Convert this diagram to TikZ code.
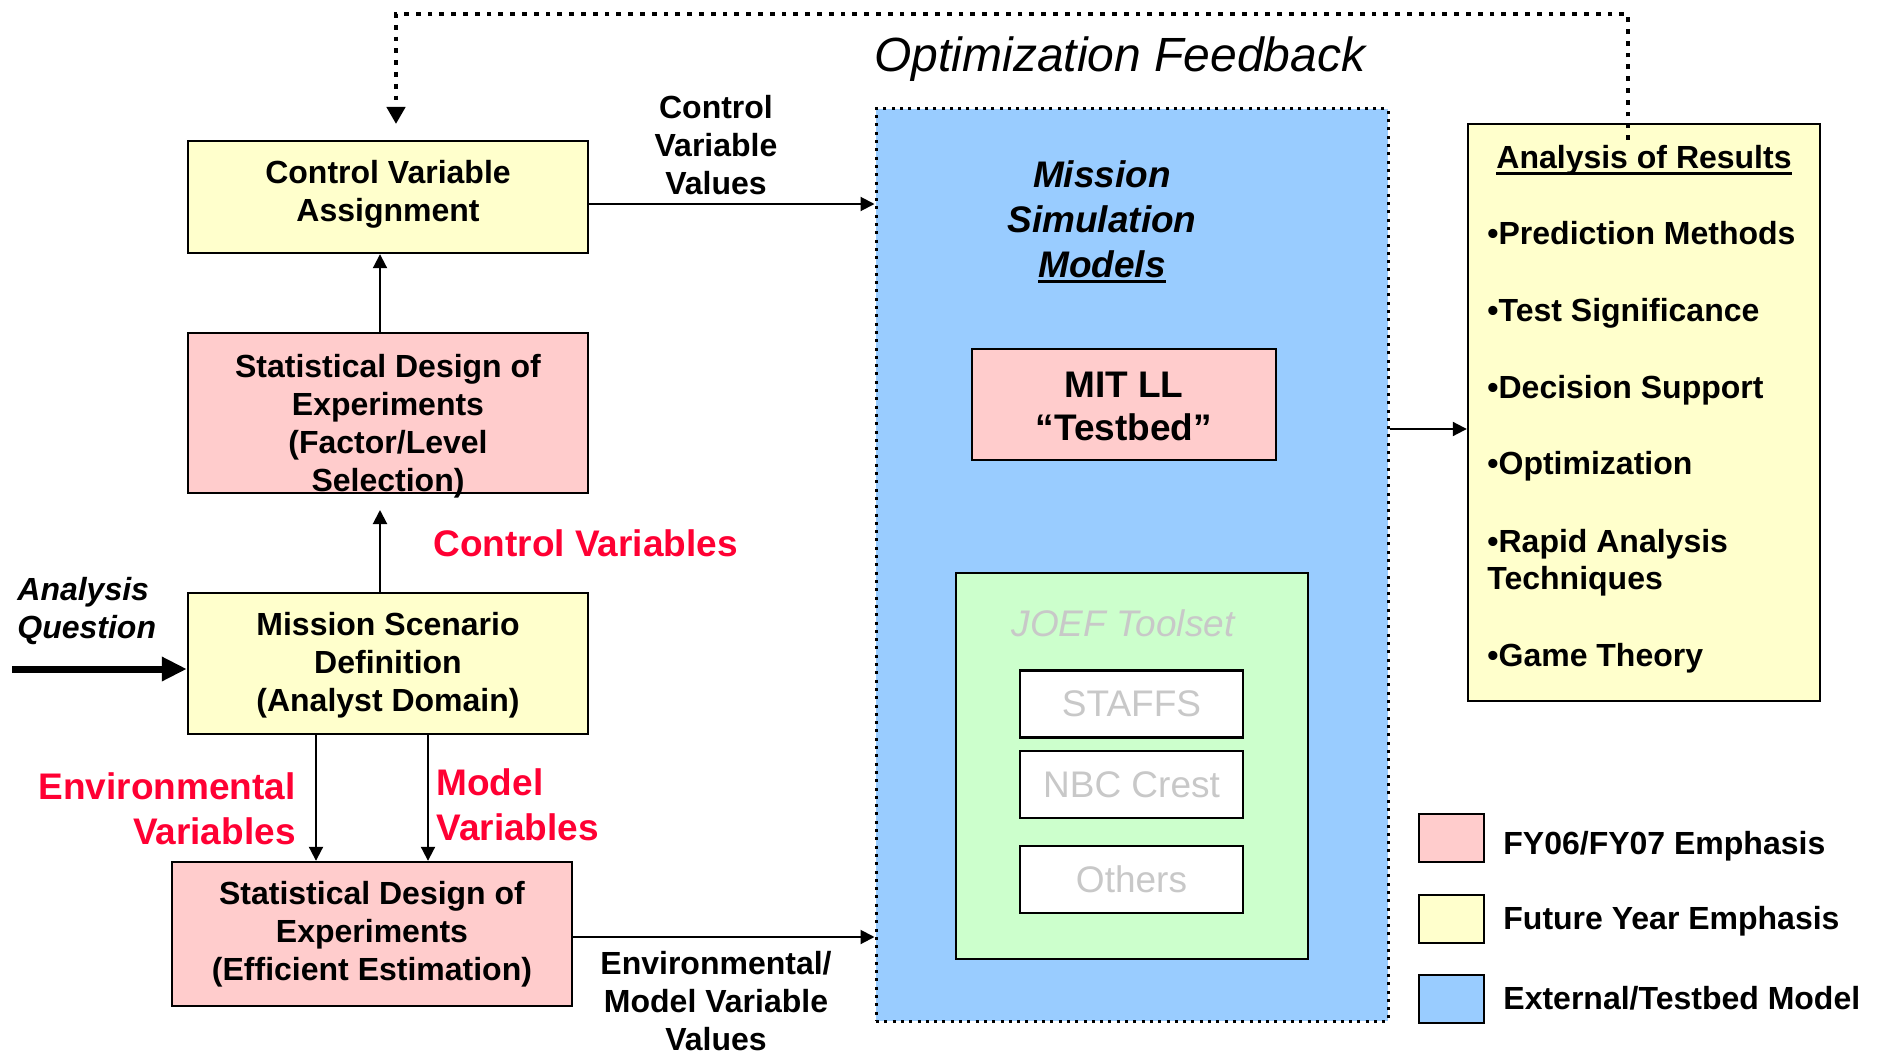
\documentclass[tikz,border=0pt]{standalone}
\usepackage{fontspec}
\setmainfont{Liberation Sans}
\usetikzlibrary{arrows.meta}
\definecolor{futyel}{HTML}{FFFFCC}
\definecolor{fypink}{HTML}{FFCCCC}
\definecolor{extblue}{HTML}{99CCFF}
\definecolor{joefgreen}{HTML}{CCFFCC}
\definecolor{labred}{HTML}{FF0033}
\definecolor{toolgrey}{HTML}{C8C8C8}
% thick underline used for headings
\newcommand\thickul[1]{\leavevmode\setbox0\hbox{#1}\rlap{\vrule height -1.4pt depth 3.0pt width \wd0}\box0}
\begin{document}
\begin{tikzpicture}[x=0.5pt,y=-0.5pt,
  box/.style={draw, line width=1.2pt, inner sep=0pt, align=center,
    font=\fontsize{16}{19}\selectfont\bfseries},
  bodytext/.style={inner sep=0pt, align=center, font=\fontsize{16}{19}\selectfont\bfseries},
  conn/.style={line width=1pt, -{Triangle[length=7pt,width=7pt]}},
  bigarrow/.style={line width=3.5pt, -{Triangle[length=12.5pt,width=11.5pt]}},
  feedback/.style={line width=2.4pt, dash pattern=on 2.4pt off 3.5pt,
    -{Triangle[length=8.5pt,width=9pt]}},
  redlab/.style={text=labred, inner sep=0pt, font=\fontsize{18.5}{22.5}\selectfont\bfseries},
  toolbox/.style={draw, line width=1.2pt, fill=white, inner sep=0pt,
    minimum width=111.5pt, minimum height=33.5pt, text=toolgrey,
    font=\fontsize{18.5}{22}\selectfont},
  listitem/.style={anchor=base west, inner sep=0pt, font=\fontsize{16}{19}\selectfont\bfseries},
  legsq/.style={draw, line width=1.2pt, minimum width=32.5pt, minimum height=24pt, inner sep=0pt},
]
\useasboundingbox (0,0) rectangle (1879,1054);

% left column of process boxes
\node[box, fill=futyel, minimum width=200pt, minimum height=56pt] (cva) at (388,197) {};
\node[bodytext] (cvatext) at (388,194) {Control Variable\\Assignment};
\node[box, fill=fypink, minimum width=200pt, minimum height=80pt] (sdf) at (388,413) {};
\node[bodytext] (sdftext) at (388,426)
  {Statistical Design of\\Experiments\\(Factor/Level\\Selection)};
\node[box, fill=futyel, minimum width=200pt, minimum height=70.5pt] (msd) at (388,663.5) {};
\node[bodytext] (msdtext) at (388,665)
  {Mission Scenario\\Definition\\(Analyst Domain)};
\node[box, fill=fypink, minimum width=200pt, minimum height=72pt] (sde) at (372,934)
  {Statistical Design of\\Experiments\\(Efficient Estimation)};

% simulation models container
\node[draw, fill=extblue, line width=1.5pt, dash pattern=on 1.5pt off 2.65pt,
  minimum width=256pt, minimum height=456pt, inner sep=0pt] (blue) at (1132,565) {};
\node[inner sep=0pt, align=center, font=\fontsize{18.5}{22.5}\selectfont\bfseries\itshape]
  (msm) at (1102,222) {Mission\\Simulation\\\thickul{Models}};
\node[box, fill=fypink, minimum width=152pt, minimum height=55.5pt,
  font=\fontsize{18.5}{21.5}\selectfont\bfseries] (mit) at (1124,404.5) {};
\node[inner sep=0pt, align=center, font=\fontsize{18.5}{21.5}\selectfont\bfseries]
  (mittext) at (1124,406) {MIT LL\\“Testbed”};
\node[draw, fill=joefgreen, line width=1.2pt, minimum width=176pt, minimum height=193pt,
  inner sep=0pt] (joef) at (1132,766) {};
\node[inner sep=0pt, text=toolgrey, font=\fontsize{18.5}{22}\selectfont\itshape]
  (joeft) at (1123,623) {JOEF Toolset};
\node[toolbox] (staffs) at (1131.5,704) {STAFFS};
\node[toolbox] (nbc) at (1131.5,784.5) {NBC Crest};
\node[toolbox] (others) at (1131.5,879.5) {Others};

% results panel
\node[draw, fill=futyel, line width=1.2pt, minimum width=176pt, minimum height=288.5pt,
  inner sep=0pt] (aor) at (1644,412.5) {};
\node[listitem, anchor=base] (aort) at (1644,169) {\thickul{Analysis of Results}};
\node[listitem] (it1) at (1487,244) {•Prediction Methods};
\node[listitem] (it2) at (1487,321) {•Test Significance};
\node[listitem] (it3) at (1487,398) {•Decision Support};
\node[listitem] (it4) at (1487,474) {•Optimization};
\node[listitem] (it5) at (1487,552) {•Rapid Analysis};
\node[listitem] (it5b) at (1487,589) {Techniques};
\node[listitem] (it6) at (1487,666) {•Game Theory};

% legend
\node[legsq, fill=fypink] (lg1) at (1451.5,838) {};
\node[legsq, fill=futyel] (lg2) at (1451.5,919) {};
\node[legsq, fill=extblue] (lg3) at (1451.5,999) {};
\node[listitem] (lt1) at (1503,854) {FY06/FY07 Emphasis};
\node[listitem] (lt2) at (1503,929) {Future Year Emphasis};
\node[listitem] (lt3) at (1503,1009) {External/Testbed Model};

% free labels
\node[inner sep=0pt, font=\fontsize{24}{28}\selectfont\itshape] (optfb) at (1120,59)
  {Optimization Feedback};
\node[bodytext] (cvv) at (716,145) {Control\\Variable\\Values};
\node[bodytext] (emv) at (716,1001) {Environmental/\\Model Variable\\Values};
\node[redlab, anchor=west] (ctlv) at (433,543) {Control Variables};
\node[redlab, anchor=east, align=right] (envv) at (296,809) {Environmental\\Variables};
\node[redlab, anchor=west, align=left] (modv) at (436,805) {Model\\Variables};
\node[inner sep=0pt, align=left, anchor=west, font=\fontsize{16}{19}\selectfont\bfseries\itshape]
  (aq) at (17,611) {Analysis\\Question};

% helper coordinates for connector positions
\coordinate (xup) at (380,0);
\coordinate (xenv) at (316,0);
\coordinate (xmod) at (428,0);
\coordinate (ycv) at (0,204);
\coordinate (yres) at (0,429);
\coordinate (yemv) at (0,937);
\coordinate (ctlend) at (380,510);
\coordinate (aqstart) at (12,669);
\coordinate (fbstart) at (1628,140);
\coordinate (fbR) at (1628,14);
\coordinate (fbL) at (396,14);
\coordinate (fbend) at (396,124);

% connectors
\draw[conn] (sdf.north -| xup) -- (cva.south -| xup);
\draw[conn] (msd.north -| xup) -- (ctlend);
\draw[conn] (msd.south -| xenv) -- (sde.north -| xenv);
\draw[conn] (msd.south -| xmod) -- (sde.north -| xmod);
\draw[conn] (cva.east |- ycv) -- (blue.west |- ycv);
\draw[conn] (sde.east |- yemv) -- (blue.west |- yemv);
\draw[conn] (blue.east |- yres) -- (aor.west |- yres);
\draw[bigarrow] (aqstart) -- (msd.west |- aqstart);
\draw[feedback] (fbstart) -- (fbR) -- (fbL) -- (fbend);
\end{tikzpicture}
\end{document}
